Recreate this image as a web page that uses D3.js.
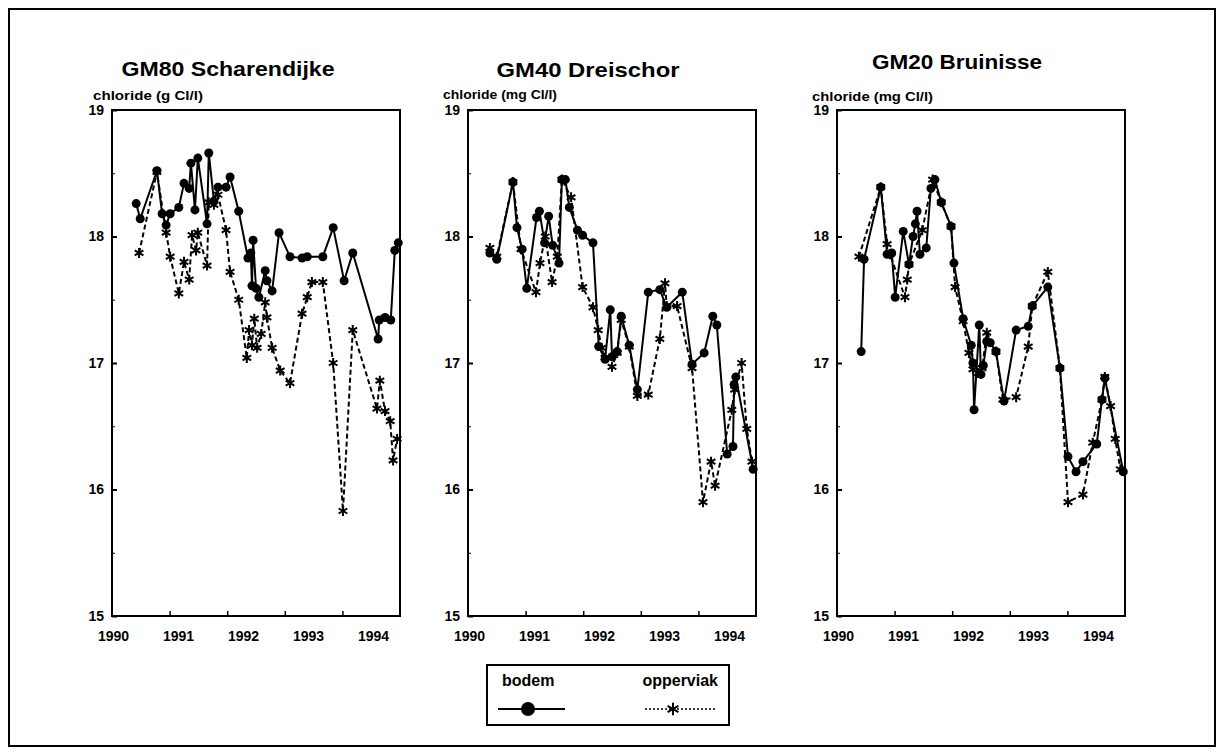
<!DOCTYPE html>
<html><head><meta charset="utf-8">
<script src="https://cdn.jsdelivr.net/npm/d3@7"></script>
<style>
html,body{margin:0;padding:0;background:#fff;}
svg{display:block;font-family:"Liberation Sans",Arial,sans-serif;}
</style></head>
<body><svg id="c" width="1224" height="755"></svg>
<script>
// ---- data ----
const yearLabels = [1990, 1991, 1992, 1993, 1994];
const yearTicks = [1991, 1992, 1993, 1994];
const yTicks = [15, 16, 17, 18, 19];
const yMinor = [15.5, 16.5, 17.5, 18.5];
const panelTitles = ["GM80 Scharendijke", "GM40 Dreischor", "GM20 Bruinisse"];
const yAxisLabels = ["chloride (g Cl/l)", "chloride (mg Cl/l)", "chloride (mg Cl/l)"];
const seriesNames = ["bodem", "opperviak"];

const gm80Bodem = [[1990.42,18.26],[1990.49,18.14],[1990.78,18.52],[1990.87,18.18],[1990.94,18.09],[1991.01,18.18],[1991.16,18.23],[1991.25,18.42],[1991.34,18.38],[1991.37,18.58],[1991.44,18.21],[1991.49,18.62],[1991.65,18.10],[1991.68,18.66],[1991.77,18.28],[1991.84,18.39],[1991.98,18.39],[1992.05,18.47],[1992.20,18.20],[1992.36,17.83],[1992.41,17.87],[1992.43,17.61],[1992.45,17.97],[1992.50,17.59],[1992.55,17.52],[1992.66,17.73],[1992.69,17.65],[1992.78,17.57],[1992.90,18.03],[1993.09,17.84],[1993.30,17.83],[1993.39,17.84],[1993.66,17.84],[1993.84,18.07],[1994.03,17.65],[1994.18,17.87],[1994.62,17.19],[1994.64,17.34],[1994.74,17.36],[1994.84,17.34],[1994.91,17.89],[1994.97,17.95]];
const gm80Opp = [[1990.47,17.87],[1990.78,18.51],[1990.94,18.03],[1991.01,17.84],[1991.16,17.55],[1991.25,17.80],[1991.34,17.66],[1991.39,18.01],[1991.46,17.89],[1991.49,18.03],[1991.65,17.77],[1991.68,18.27],[1991.77,18.25],[1991.84,18.33],[1991.98,18.05],[1992.05,17.72],[1992.20,17.50],[1992.34,17.04],[1992.38,17.26],[1992.43,17.14],[1992.47,17.35],[1992.52,17.12],[1992.59,17.23],[1992.66,17.48],[1992.69,17.36],[1992.78,17.12],[1992.92,16.94],[1993.09,16.84],[1993.30,17.39],[1993.39,17.52],[1993.47,17.64],[1993.66,17.64],[1993.84,17.00],[1994.01,15.83],[1994.18,17.26],[1994.60,16.64],[1994.65,16.86],[1994.74,16.62],[1994.83,16.54],[1994.88,16.23],[1994.95,16.40]];

const gm40Bodem = [[1990.38,17.87],[1990.50,17.82],[1990.78,18.43],[1990.85,18.07],[1990.94,17.90],[1991.02,17.59],[1991.19,18.15],[1991.24,18.20],[1991.33,17.95],[1991.40,18.16],[1991.47,17.93],[1991.58,17.79],[1991.63,18.45],[1991.69,18.45],[1991.76,18.23],[1991.90,18.05],[1991.99,18.01],[1992.17,17.95],[1992.27,17.13],[1992.38,17.03],[1992.47,17.42],[1992.50,17.05],[1992.59,17.09],[1992.66,17.37],[1992.80,17.14],[1992.94,16.79],[1993.13,17.56],[1993.33,17.58],[1993.45,17.44],[1993.72,17.56],[1993.89,16.99],[1994.10,17.08],[1994.25,17.37],[1994.32,17.30],[1994.50,16.28],[1994.60,16.34],[1994.62,16.83],[1994.65,16.89],[1994.95,16.16]];
const gm40Opp = [[1990.38,17.91],[1990.50,17.84],[1990.78,18.43],[1990.92,17.90],[1991.18,17.56],[1991.25,17.79],[1991.34,18.00],[1991.46,17.64],[1991.55,17.84],[1991.63,18.45],[1991.79,18.31],[1991.99,17.60],[1992.17,17.44],[1992.26,17.26],[1992.32,17.12],[1992.38,17.04],[1992.50,16.97],[1992.59,17.08],[1992.66,17.34],[1992.80,17.13],[1992.94,16.74],[1993.13,16.75],[1993.33,17.19],[1993.42,17.63],[1993.45,17.45],[1993.63,17.45],[1993.89,16.96],[1994.08,15.90],[1994.22,16.22],[1994.29,16.03],[1994.58,16.63],[1994.63,16.79],[1994.75,17.00],[1994.84,16.48],[1994.93,16.22]];

const gm20Bodem = [[1990.42,17.09],[1990.47,17.82],[1990.76,18.39],[1990.87,17.86],[1990.95,17.87],[1991.01,17.52],[1991.15,18.04],[1991.25,17.78],[1991.32,18.00],[1991.36,18.10],[1991.39,18.20],[1991.44,17.86],[1991.55,17.91],[1991.63,18.38],[1991.70,18.45],[1991.81,18.27],[1991.98,18.08],[1992.03,17.79],[1992.19,17.35],[1992.33,17.14],[1992.36,17.00],[1992.38,16.63],[1992.47,17.30],[1992.50,16.91],[1992.54,16.98],[1992.60,17.17],[1992.66,17.16],[1992.76,17.09],[1992.90,16.70],[1993.11,17.26],[1993.32,17.29],[1993.39,17.45],[1993.66,17.60],[1993.87,16.96],[1994.01,16.26],[1994.15,16.14],[1994.27,16.22],[1994.51,16.36],[1994.60,16.71],[1994.65,16.88],[1994.97,16.14]];
const gm20Opp = [[1990.38,17.84],[1990.76,18.39],[1990.87,17.94],[1990.92,17.86],[1991.18,17.52],[1991.22,17.66],[1991.25,17.78],[1991.48,18.05],[1991.66,18.45],[1991.81,18.27],[1991.98,18.08],[1992.05,17.60],[1992.19,17.33],[1992.29,17.08],[1992.36,16.95],[1992.45,16.92],[1992.52,16.96],[1992.60,17.24],[1992.76,17.09],[1992.88,16.71],[1993.11,16.73],[1993.32,17.13],[1993.39,17.45],[1993.66,17.72],[1993.87,16.96],[1994.01,15.90],[1994.27,15.96],[1994.44,16.37],[1994.60,16.71],[1994.65,16.89],[1994.75,16.66],[1994.83,16.40],[1994.92,16.16]];

const panelBodem = [gm80Bodem, gm40Bodem, gm20Bodem];
const panelOpp = [gm80Opp, gm40Opp, gm20Opp];

// ---- layout ----
const layout = [
  {x0:112, titleX:228, titleY:76, titleW:213, ylX:93, ylY:100, ylW:110},
  {x0:468, titleX:588, titleY:77, titleW:183, ylX:443, ylY:99, ylW:114},
  {x0:837, titleX:957, titleY:69, titleW:170, ylX:812, ylY:101, ylW:121}
];
const plotW = 288, plotTop = 110, plotBottom = 616;
const FONT = "'Liberation Sans', Arial, sans-serif";

const svg = d3.select("#c");
svg.append("rect").attr("width",1224).attr("height",755).attr("fill","#fff");
svg.append("rect").attr("x",9).attr("y",9).attr("width",1206).attr("height",737)
  .attr("fill","none").attr("stroke","#000").attr("stroke-width",2);

const asterisk = d3.symbolAsterisk || d3.symbolCross;

layout.forEach((L, i) => {
  const g = svg.append("g");
  const x = d3.scaleLinear().domain([1990,1995]).range([L.x0, L.x0+plotW]);
  const y = d3.scaleLinear().domain([15,19]).range([plotBottom, plotTop]);
  const xLab = d3.scaleLinear().domain([1990,1994]).range([L.x0+1, L.x0+261]);

  g.append("text").attr("x",L.titleX).attr("y",L.titleY).attr("text-anchor","middle")
    .style("font-size","21px").style("font-weight","bold")
    .attr("textLength",L.titleW).attr("lengthAdjust","spacingAndGlyphs").text(panelTitles[i]);
  g.append("text").attr("x",L.ylX).attr("y",L.ylY)
    .style("font-size","12.5px").style("font-weight","bold")
    .attr("textLength",L.ylW).attr("lengthAdjust","spacingAndGlyphs").text(yAxisLabels[i]);

  g.append("rect").attr("x",L.x0).attr("y",plotTop).attr("width",plotW).attr("height",plotBottom-plotTop)
    .attr("fill","none").attr("stroke","#000").attr("stroke-width",2);

  const ya = g.append("g").attr("transform",`translate(${L.x0},0)`)
    .call(d3.axisLeft(y).tickValues(yTicks).tickSizeInner(-5).tickSizeOuter(0).tickPadding(8).tickFormat(d3.format("d")));
  ya.select(".domain").remove();
  ya.selectAll("line").attr("stroke-width",2);
  ya.selectAll("text").style("font-size","14px").style("font-weight","bold").style("font-family",FONT);
  const ym = g.append("g").attr("transform",`translate(${L.x0},0)`)
    .call(d3.axisLeft(y).tickValues(yMinor).tickSizeInner(-3).tickSizeOuter(0).tickFormat(""));
  ym.select(".domain").remove();

  const xa = g.append("g").attr("transform",`translate(0,${plotBottom})`)
    .call(d3.axisBottom(x).tickValues(yearTicks).tickSizeInner(-5).tickSizeOuter(0).tickFormat(""));
  xa.select(".domain").remove();
  xa.selectAll("line").attr("stroke-width",1.5);
  const xl = g.append("g").attr("transform",`translate(0,${plotBottom})`)
    .call(d3.axisBottom(xLab).tickValues(yearLabels).tickSize(0).tickPadding(15).tickFormat(d3.format("d")));
  xl.select(".domain").remove();
  xl.selectAll("text").style("font-size","14px").style("font-weight","bold").style("font-family",FONT);

  const line = d3.line().x(d=>x(d[0])).y(d=>y(d[1]));
  g.append("path").datum(panelOpp[i]).attr("d",line).attr("fill","none")
    .attr("stroke","#000").attr("stroke-width",2).attr("stroke-dasharray","5,3");
  g.append("path").datum(panelBodem[i]).attr("d",line).attr("fill","none")
    .attr("stroke","#000").attr("stroke-width",2);
  g.selectAll(".star").data(panelOpp[i]).join("path")
    .attr("transform",d=>`translate(${x(d[0])},${y(d[1])})`)
    .attr("d",d3.symbol(asterisk,70)).attr("fill","none").attr("stroke","#000").attr("stroke-width",2);
  g.selectAll(".dot").data(panelBodem[i]).join("circle")
    .attr("cx",d=>x(d[0])).attr("cy",d=>y(d[1])).attr("r",4.5).attr("fill","#000");
});

// legend
const lg = svg.append("g");
lg.append("rect").attr("x",487).attr("y",665).attr("width",242).attr("height",60)
  .attr("fill","#fff").attr("stroke","#000").attr("stroke-width",2);
lg.append("text").attr("x",502).attr("y",686).style("font-size","16px").style("font-weight","bold").text(seriesNames[0]);
lg.append("text").attr("x",718).attr("y",686).attr("text-anchor","end").style("font-size","16px").style("font-weight","bold").text(seriesNames[1]);
lg.append("line").attr("x1",498).attr("x2",565).attr("y1",709).attr("y2",709).attr("stroke","#000").attr("stroke-width",2);
lg.append("circle").attr("cx",528).attr("cy",709).attr("r",7).attr("fill","#000");
lg.append("line").attr("x1",645).attr("x2",715).attr("y1",709).attr("y2",709).attr("stroke","#000").attr("stroke-width",1.5).attr("stroke-dasharray","2,2");
lg.append("path").attr("transform","translate(673,709)").attr("d",d3.symbol(asterisk,110))
  .attr("fill","none").attr("stroke","#000").attr("stroke-width",2);
</script></body></html>
